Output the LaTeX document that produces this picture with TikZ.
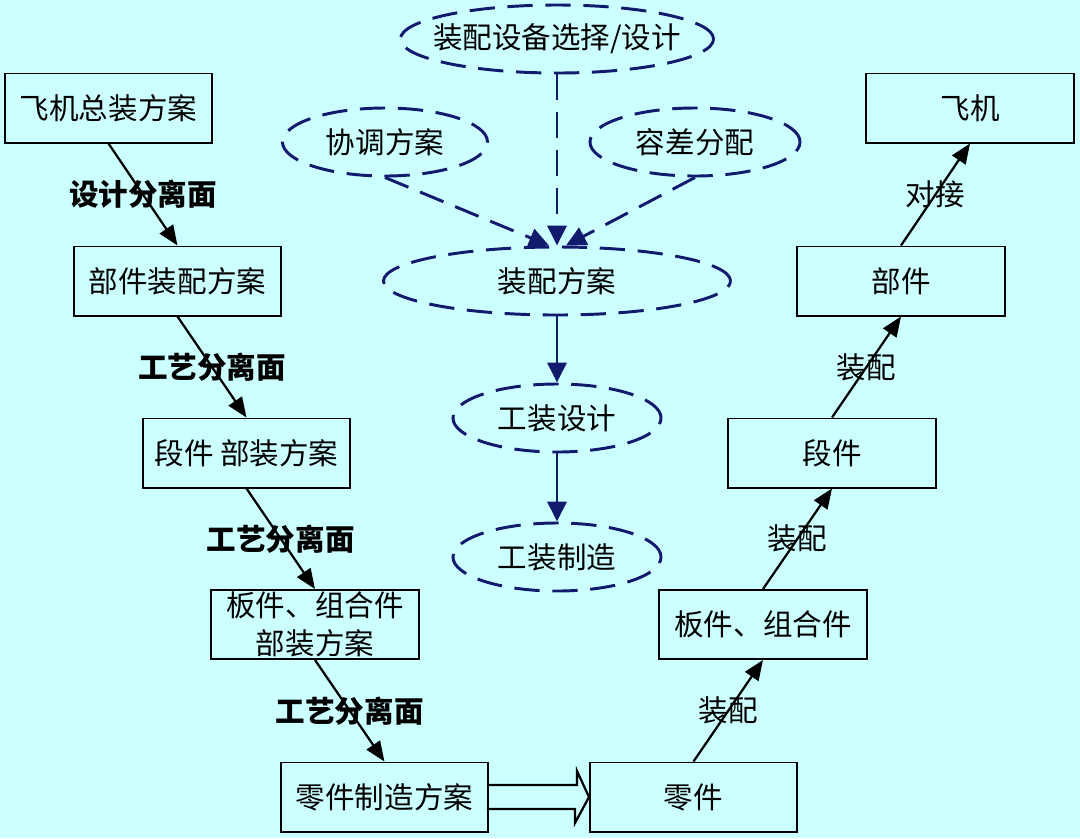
\documentclass[tikz,border=0pt]{standalone}
\usepackage{fontspec}
\setmainfont{Noto Sans CJK SC}
\usetikzlibrary{shapes.geometric,arrows.meta,calc}
\definecolor{bgcyan}{RGB}{204,255,255}
\definecolor{plannavy}{RGB}{18,26,110}
\begin{document}
\begin{tikzpicture}[x=0.025cm,y=-0.025cm,
    plan/.style={draw,line width=1.4pt,minimum width=5.175cm,minimum height=1.725cm,inner sep=0pt,align=center,font=\fontsize{21}{27}\selectfont},
    oval/.style={ellipse,draw=plannavy,line width=2.1pt,dash pattern=on 18pt off 9pt,inner sep=0pt,minimum height=1.7cm,font=\fontsize{21}{24}\selectfont},
    sep/.style={font=\fontsize{21}{24}\selectfont\bfseries},
    asm/.style={font=\fontsize{21}{24}\selectfont},
    flow/.style={-{Triangle[length=5mm,width=4mm]},line width=1.6pt},
    navyflow/.style={-{Triangle[length=5mm,width=4.8mm]},plannavy,line width=2.1pt}]
    \fill [bgcyan] (0,0) rectangle (1080,838);
    %left boxes
    \node [plan] (a1) at (108.5,108) {飞机总装方案};
    \node [plan] (a2) at (177.5,281) {部件装配方案};
    \node [plan] (a3) at (246.5,453) {段件 部装方案};
    \node [plan] (a4) at (315,624.5) {板件、组合件\\部装方案};
    \node [plan] (a5) at (384.5,797) {零件制造方案};
    %right boxes
    \node [plan] (b5) at (693.5,797) {零件};
    \node [plan] (b4) at (763,624.5) {板件、组合件};
    \node [plan] (b3) at (832,453) {段件};
    \node [plan] (b2) at (901,281) {部件};
    \node [plan] (b1) at (970,108) {飞机};
    %ellipses
    \node [oval,inner xsep=-15pt,minimum width=7.825cm] (e0) at (557,39) {装配设备选择/设计};
    \node [oval,minimum width=5.125cm] (e1) at (385,142) {协调方案};
    \node [oval,minimum width=5.25cm] (e2) at (695,142) {容差分配};
    \node [oval,minimum width=8.675cm] (e3) at (557,281) {装配方案};
    \node [oval,minimum width=5.2cm] (e4) at (557,418) {工装设计};
    \node [oval,minimum width=5.2cm] (e5) at (557,557) {工装制造};
    %dashed arrows
    \draw [navyflow,dash pattern=on 18pt off 9pt] (e0.south) -- (e3.north);
    \draw [navyflow,dash pattern=on 18pt off 9pt] (e1.south) -- ($(e3.north)+(-8,0)$);
    \draw [navyflow,dash pattern=on 18pt off 9pt] (e2.south) -- ($(e3.north)+(9,0)$);
    \draw [navyflow] (e3.south) -- (e4.north);
    \draw [navyflow] (e4.south) -- (e5.north);
    %left arrows
    \draw [flow] (a1.south) -- node[sep] {设计分离面} (a2.north);
    \draw [flow] (a2.south) -- node[sep] {工艺分离面} (a3.north);
    \draw [flow] (a3.south) -- node[sep] {工艺分离面} (a4.north);
    \draw [flow] (a4.south) -- node[sep] {工艺分离面} (a5.north);
    %right arrows
    \draw [flow] (b5.north) -- node[asm] {装配} (b4.south);
    \draw [flow] (b4.north) -- node[asm] {装配} (b3.south);
    \draw [flow] (b3.north) -- node[asm] {装配} (b2.south);
    \draw [flow] (b2.north) -- node[asm] {对接} (b1.south);
    %hollow arrow
    \draw [line width=1.6pt,line join=miter] (a5.east) ++(0,-12) -- ++(88,0) -- ++(0,-14) -- (b5.west) -- ++(-14,26) -- ++(0,-14) -- ++(-88,0);
\end{tikzpicture}
\end{document}
